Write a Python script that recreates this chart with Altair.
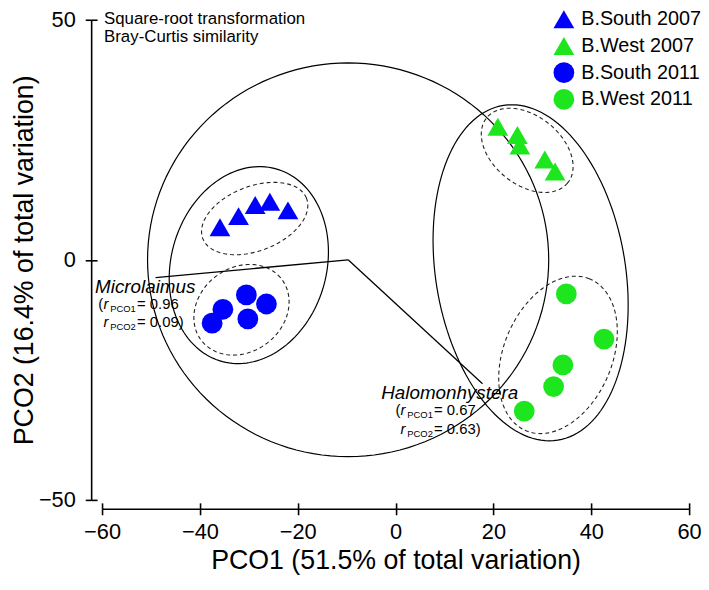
import altair as alt
import numpy as np
import pandas as pd

FONT = "Liberation Sans"

# ---------------- data ----------------
groups = ["B.South 2007", "B.West 2007", "B.South 2011", "B.West 2011"]
group_colors = ["#0000FF", "#1EE61E", "#0000FF", "#1EE61E"]
group_shapes = ["triangle-up", "triangle-up", "circle", "circle"]
group_sizes = [440, 440, 310, 310]

south07_x = [-35.9, -32.1, -28.7, -25.7, -22.0]
south07_y = [6.8, 9.1, 11.4, 12.1, 10.3]
west07_x = [20.9, 24.9, 25.4, 30.5, 32.6]
west07_y = [27.7, 26.0, 23.8, 20.9, 18.4]
south11_x = [-37.5, -35.3, -30.5, -30.2, -26.4]
south11_y = [-13.2, -10.3, -7.3, -12.3, -9.2]
west11_x = [34.9, 42.6, 34.2, 32.3, 26.3]
west11_y = [-7.1, -16.5, -21.9, -26.4, -31.5]

# ellipses (centre, semi-axes, rotation in degrees), vector circle first
ell_id = ["vector circle", "South", "West", "South 2007", "South 2011", "West 2007", "West 2011"]
ell_cx = [-9.7, -30.0, 27.6, -28.8, -31.5, 26.9, 33.2]
ell_cy = [0.0, -1.1, -2.7, 8.6, -10.4, 22.8, -19.8]
ell_a = [41.0, 20.8, 35.3, 11.4, 10.4, 10.7, 17.1]
ell_b = [41.0, 15.9, 19.4, 6.7, 8.7, 7.1, 11.1]
ell_angle = [0, 75, 99, 22, 40, -40, 68]
ell_dashed = [False, False, False, True, True, True, True]

# vectors (correlations with PCO1 / PCO2)
vec_names = ["Microlaimus", "Halomonhystera"]
vec_r1 = [-0.96, 0.67]
vec_r2 = [-0.09, -0.63]
vec_r1_text = ["0.96", "0.67"]
vec_r2_text = ["0.09", "0.63"]
vec_origin_x = -9.7
vec_origin_y = 0.0
vec_radius = 41.0

x_ticks = [-60, -40, -20, 0, 20, 40, 60]
y_ticks = [-50, 0, 50]
x_title = "PCO1 (51.5% of total variation)"
y_title = "PCO2 (16.4% of total variation)"
note_lines = ["Square-root transformation", "Bray-Curtis similarity"]

# ---------------- tables ----------------
pts = pd.DataFrame({
    "x": south07_x + west07_x + south11_x + west11_x,
    "y": south07_y + west07_y + south11_y + west11_y,
    "grp": [groups[0]] * 5 + [groups[1]] * 5 + [groups[2]] * 5 + [groups[3]] * 5,
})

rows = []
t = np.linspace(0, 2 * np.pi, 145)
for k in range(len(ell_id)):
    th = np.deg2rad(ell_angle[k])
    u = ell_a[k] * np.cos(t)
    v = ell_b[k] * np.sin(t)
    xx = ell_cx[k] + u * np.cos(th) - v * np.sin(th)
    yy = ell_cy[k] + u * np.sin(th) + v * np.cos(th)
    for i in range(len(t)):
        rows.append({"id": ell_id[k], "i": i, "x": xx[i], "y": yy[i],
                     "dashed": ell_dashed[k]})
ell = pd.DataFrame(rows)

vec = pd.DataFrame({
    "name": vec_names,
    "x": [vec_origin_x] * 2,
    "y": [vec_origin_y] * 2,
    "x2": [vec_origin_x + vec_radius * r for r in vec_r1],
    "y2": [vec_origin_y + vec_radius * r for r in vec_r2],
})

# ---------------- layout ----------------
W, H = 593, 485
X_OFF, Y_OFF = 9, 11

xs = alt.Scale(domain=[-60, 60], nice=False, zero=False)
ys = alt.Scale(domain=[-50, 50], nice=False, zero=False)
x_axis = alt.Axis(values=x_ticks, title=x_title, offset=X_OFF, tickSize=6,
                  labelPadding=7, labelFlush=False,
                  titleX=W / 2, titleY=60, titleBaseline="alphabetic", grid=False)
y_axis = alt.Axis(values=y_ticks, title=y_title, offset=Y_OFF, tickSize=6,
                  labelPadding=10, labelFlush=False,
                  titleX=-59, titleY=H / 2, titleBaseline="alphabetic",
                  titleAngle=270, grid=False)
X = alt.X("x:Q", scale=xs, axis=x_axis)
Y = alt.Y("y:Q", scale=ys, axis=y_axis)

solid = alt.Chart(ell).transform_filter("!datum.dashed").mark_line(
    color="black", strokeWidth=1.2).encode(
    x=X, y=Y, detail="id:N", order="i:Q")
dashed = alt.Chart(ell).transform_filter("datum.dashed").mark_line(
    color="#222222", strokeWidth=1.1, strokeDash=[4, 3]).encode(
    x=X, y=Y, detail="id:N", order="i:Q")

rules = alt.Chart(vec).mark_rule(color="black", strokeWidth=1.3).encode(
    x=X, y=Y, x2="x2:Q", y2="y2:Q")

legend = alt.Legend(orient="none", legendX=456, legendY=-11, title=None,
                    labelFont=FONT, labelFontSize=20, labelColor="black",
                    symbolSize=330, symbolStrokeWidth=0, symbolOpacity=1,
                    rowPadding=6, labelOffset=7, padding=0)
points = alt.Chart(pts).mark_point(filled=True, opacity=1, strokeWidth=0).encode(
    x=X, y=Y,
    color=alt.Color("grp:N", scale=alt.Scale(domain=groups, range=group_colors), legend=legend),
    shape=alt.Shape("grp:N", scale=alt.Scale(domain=groups, range=group_shapes), legend=legend),
    size=alt.Size("grp:N", scale=alt.Scale(domain=groups, range=group_sizes), legend=None),
)

note = alt.Chart(pd.DataFrame({"x": [-60], "y": [50]})).mark_text(
    align="left", baseline="alphabetic", dx=2, dy=4, font=FONT, fontSize=17,
    lineHeight=18, color="black").encode(x=X, y=Y, text=alt.value(note_lines))

# label pieces: (text, dx, dy, size, style)
label_layers = []
name_dx = [-61.1, -102.3]
paren_dx = [-57.8, -88.0]
for k in range(2):
    end = pd.DataFrame({"x": [vec["x2"][k]], "y": [vec["y2"][k]]})
    L = paren_dx[k]
    pieces = [
        (vec_names[k], name_dx[k], 15.2, 19, "italic"),
        ("(", L, 31.6, 15, "normal"),
        ("r", L + 5.2, 31.6, 15, "italic"),
        ("PCO1", L + 12.0, 34.6, 9.5, "normal"),
        ("= " + vec_r1_text[k], L + 39.0, 31.6, 15, "normal"),
        ("r", L + 5.2, 50.2, 15, "italic"),
        ("PCO2", L + 12.0, 53.2, 9.5, "normal"),
        ("= " + vec_r2_text[k] + ")", L + 39.0, 50.2, 15, "normal"),
    ]
    for txt, dx, dy, fs, st in pieces:
        label_layers.append(
            alt.Chart(end).mark_text(align="left", baseline="alphabetic", dx=dx, dy=dy,
                                     font=FONT, fontSize=fs, fontStyle=st, color="black")
            .encode(x=X, y=Y, text=alt.value(txt)))

main = alt.layer(solid, dashed, rules, points, note, *label_layers)

# inner half of the crossing ticks
ticks = alt.Chart(pd.DataFrame({"x": [0], "y": [0]})).mark_point(opacity=0).encode(
    x=alt.X("x:Q", scale=xs, axis=alt.Axis(values=x_ticks, orient="bottom", offset=X_OFF - 6,
                                            tickSize=6, domain=False, labels=False, title=None,
                                            grid=False)),
    y=alt.Y("y:Q", scale=ys, axis=alt.Axis(values=y_ticks, orient="left", offset=Y_OFF - 6,
                                            tickSize=6, domain=False, labels=False, title=None,
                                            grid=False)),
)

chart = alt.layer(main, ticks).resolve_scale(x="independent", y="independent").properties(
    width=W, height=H,
    autosize=alt.AutoSizeParams(type="none"),
    padding={"left": 95, "top": 9, "right": 12, "bottom": 74},
).configure_view(stroke=None).configure_axis(
    domainColor="black", domainWidth=1.6, tickColor="black", tickWidth=1.6,
    labelFont=FONT, labelFontSize=22, labelColor="black",
    titleFont=FONT, titleFontSize=27, titleFontWeight="normal", titleColor="black",
)

chart.save("out.html", embed_options={"renderer": "svg", "actions": False})
